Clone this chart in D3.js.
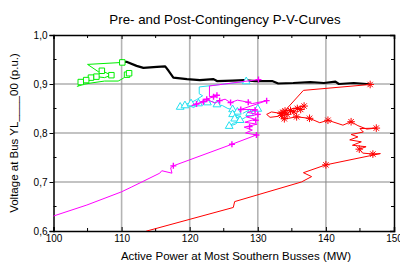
<!DOCTYPE html>
<html>
<head>
<meta charset="utf-8">
<script src="https://cdn.jsdelivr.net/npm/d3@7"></script>
<style>
  body { margin: 0; background: #fff; }
  text { font-family: "Liberation Sans", Arial, sans-serif; }
</style>
</head>
<body>
<div id="chart"></div>
<script>
// values: [active power MW, voltage p.u.]
const blackLine = [[110.0,0.950],[110.0,0.945],[110.8,0.945],[112.2,0.937],[113.2,0.933],[115.2,0.935],[116.4,0.936],[116.9,0.927],[117.6,0.913],[119.6,0.910],[121.5,0.908],[123.5,0.910],[124.0,0.906],[126.3,0.907],[128.0,0.908],[129.6,0.906],[132.1,0.906],[133.0,0.901],[135.2,0.902],[137.7,0.904],[139.7,0.902],[141.4,0.905],[141.9,0.900],[144.1,0.902],[146.0,0.900],[146.5,0.899]];

const greenLine = [[110.1,0.944],[105.0,0.940],[106.6,0.925],[107.1,0.927],[108.5,0.918],[107.5,0.913],[106.3,0.915],[106.0,0.911],[105.5,0.913],[105.0,0.907],[104.5,0.905],[104.0,0.902],[103.5,0.895],[104.3,0.899],[105.5,0.902],[107.5,0.906],[109.5,0.906],[110.3,0.912],[110.8,0.919],[111.2,0.923],[110.6,0.920]];
const greenMarks = [[110.1,0.944],[107.1,0.927],[108.5,0.918],[106.3,0.915],[105.5,0.913],[104.8,0.908],[104.0,0.904],[110.8,0.919],[111.1,0.922]];

const cyanLine = [[128.3,0.905],[121.4,0.894],[121.4,0.880],[121.9,0.876],[121.0,0.868],[120.2,0.862],[119.3,0.858],[118.6,0.853],[119.0,0.850],[119.8,0.856],[120.6,0.852],[121.3,0.860],[122.0,0.866],[122.6,0.860],[123.3,0.865],[124.0,0.858],[124.8,0.856],[125.6,0.850],[126.3,0.848],[127.0,0.843],[126.3,0.838],[127.4,0.834],[126.6,0.829],[127.6,0.824],[126.4,0.820],[125.8,0.814],[126.7,0.818],[127.4,0.826],[128.2,0.832],[128.8,0.840],[129.4,0.845],[130.2,0.850],[128.6,0.846],[127.8,0.840]];
const cyanMarks = [[128.3,0.905],[118.6,0.853],[119.3,0.856],[120.2,0.860],[121.3,0.860],[122.6,0.862],[124.0,0.858],[126.3,0.848],[127.0,0.843],[126.3,0.838],[126.6,0.829],[125.8,0.814],[127.4,0.826],[128.8,0.840],[130.0,0.849]];

const magentaLine = [[99.0,0.626],[104.9,0.653],[110.0,0.680],[111.5,0.690],[115.6,0.718],[115.9,0.723],[117.4,0.718],[117.2,0.729],[117.6,0.733],[126.2,0.777],[129.8,0.796],[128.2,0.800],[129.2,0.806],[128.0,0.812],[129.9,0.818],[128.1,0.822],[129.6,0.828],[128.3,0.833],[130.0,0.838],[128.5,0.842],[129.8,0.848],[127.5,0.848],[131.3,0.866],[129.2,0.860],[127.8,0.865],[127.0,0.867],[126.0,0.862],[125.2,0.869],[124.4,0.866],[123.7,0.861],[122.8,0.867],[122.0,0.863],[121.0,0.859],[120.3,0.856],[121.5,0.862],[122.5,0.869],[123.5,0.874],[124.0,0.877],[122.9,0.874],[122.9,0.896],[130.1,0.909]];
const magentaMarks = [[117.6,0.733],[126.2,0.777],[129.8,0.796],[128.8,0.813],[129.7,0.826],[130.0,0.838],[129.6,0.847],[127.5,0.848],[131.3,0.866],[128.6,0.863],[126.0,0.862],[124.4,0.866],[121.0,0.859],[122.0,0.864],[122.5,0.869],[123.5,0.874],[124.0,0.877],[130.1,0.909]];

const redLine = [[112.0,0.590],[113.7,0.600],[126.4,0.648],[126.6,0.660],[136.4,0.700],[137.9,0.711],[136.7,0.719],[140.0,0.735],[148.0,0.758],[146.9,0.757],[145.4,0.759],[144.9,0.767],[145.9,0.772],[143.9,0.775],[145.2,0.782],[143.5,0.786],[144.7,0.792],[143.7,0.797],[145.5,0.802],[145.0,0.809],[147.4,0.810],[146.0,0.808],[144.7,0.815],[143.7,0.823],[142.5,0.816],[140.3,0.826],[139.1,0.821],[137.6,0.830],[135.7,0.833],[134.5,0.830],[133.7,0.828],[133.4,0.840],[132.0,0.843],[131.3,0.838],[131.8,0.832],[133.0,0.834],[133.7,0.842],[134.3,0.838],[134.8,0.846],[135.3,0.843],[135.8,0.850],[136.3,0.848],[136.8,0.855],[135.2,0.850],[134.0,0.845],[133.5,0.838],[136.7,0.887],[146.5,0.899]];
const redMarks = [[146.5,0.899],[133.4,0.840],[133.7,0.842],[134.3,0.838],[134.8,0.846],[135.3,0.843],[135.8,0.850],[136.3,0.848],[136.8,0.855],[134.0,0.845],[133.5,0.836],[135.7,0.833],[133.9,0.829],[137.6,0.830],[140.3,0.826],[143.7,0.823],[147.4,0.810],[144.9,0.767],[146.9,0.757],[140.0,0.735]];

const xTicks = [100, 110, 120, 130, 140, 150];
const yTicks = [0.6, 0.7, 0.8, 0.9, 1.0];

const width = 400, height = 264;
const margin = {left: 53.5, right: 6, top: 35, bottom: 33};

const svg = d3.select("#chart").append("svg")
  .attr("width", width)
  .attr("height", height);

const x = d3.scaleLinear().domain([100, 150]).range([margin.left, width - margin.right]);
const y = d3.scaleLinear().domain([0.6, 1.0]).range([height - margin.bottom, margin.top]);

svg.append("defs").append("clipPath").attr("id", "plotclip")
  .append("rect")
  .attr("x", x(100)).attr("y", y(1.0))
  .attr("width", x(150) - x(100)).attr("height", y(0.6) - y(1.0));

// grid
svg.append("g").selectAll("line")
  .data(xTicks.slice(1, -1))
  .join("line")
  .attr("x1", d => x(d)).attr("x2", d => x(d))
  .attr("y1", y(1.0)).attr("y2", y(0.6))
  .attr("stroke", "#b4b4b4").attr("stroke-width", 1.6);

svg.append("g").selectAll("line")
  .data(yTicks.slice(1, -1))
  .join("line")
  .attr("x1", x(100)).attr("x2", x(150))
  .attr("y1", d => y(d)).attr("y2", d => y(d))
  .attr("stroke", "#888").attr("stroke-width", 1.2);

// axes
const fmtY = d => d3.format(".1f")(d).replace(".", ",");
const minorX = d3.range(105, 150, 10);
const minorY = [0.65, 0.75, 0.85, 0.95];

const axBottom = svg.append("g").attr("transform", `translate(0,${y(0.6)})`)
  .call(d3.axisBottom(x).tickValues(xTicks).tickSize(-4).tickPadding(4).tickFormat(d3.format("d")));
const axTop = svg.append("g").attr("transform", `translate(0,${y(1.0)})`)
  .call(d3.axisTop(x).tickValues(xTicks).tickSize(-4).tickFormat(""));
const axLeft = svg.append("g").attr("transform", `translate(${x(100)},0)`)
  .call(d3.axisLeft(y).tickValues(yTicks).tickSize(4).tickPadding(2).tickFormat(fmtY));
const axRight = svg.append("g").attr("transform", `translate(${x(150)},0)`)
  .call(d3.axisRight(y).tickValues(yTicks).tickSize(-4).tickFormat(""));

[axBottom, axTop, axLeft, axRight].forEach(g => {
  g.select(".domain").attr("stroke", "#000").attr("stroke-width", 1.5);
  g.selectAll(".tick line").attr("stroke", "#000");
  g.selectAll("text").attr("font-size", 10).attr("fill", "#000")
    .attr("font-family", "Liberation Sans, Arial, sans-serif");
});

// minor ticks
svg.append("g").selectAll("line").data(minorX).join("line")
  .attr("x1", d => x(d)).attr("x2", d => x(d))
  .attr("y1", y(0.6)).attr("y2", y(0.6) - 3).attr("stroke", "#000");
svg.append("g").selectAll("line").data(minorX).join("line")
  .attr("x1", d => x(d)).attr("x2", d => x(d))
  .attr("y1", y(1.0)).attr("y2", y(1.0) + 3).attr("stroke", "#000");
svg.append("g").selectAll("line").data(minorY).join("line")
  .attr("x1", x(100)).attr("x2", x(100) + 3)
  .attr("y1", d => y(d)).attr("y2", d => y(d)).attr("stroke", "#000");
svg.append("g").selectAll("line").data(minorY).join("line")
  .attr("x1", x(150)).attr("x2", x(150) - 3)
  .attr("y1", d => y(d)).attr("y2", d => y(d)).attr("stroke", "#000");

// curves
const line = d3.line().x(d => x(d[0])).y(d => y(d[1]));
const plot = svg.append("g").attr("clip-path", "url(#plotclip)");

function curve(data, color, w) {
  plot.append("path")
    .datum(data)
    .attr("d", line)
    .attr("fill", "none")
    .attr("stroke", color)
    .attr("stroke-width", w)
    .attr("stroke-linejoin", "round");
}

function symbols(data, color, type) {
  const g = plot.append("g");
  if (type === "square" || type === "triangle") {
    const sym = d3.symbol()
      .type(type === "square" ? d3.symbolSquare : d3.symbolTriangle)
      .size(type === "square" ? 30 : 26);
    g.selectAll("path").data(data).join("path")
      .attr("transform", d => `translate(${x(d[0])},${y(d[1])})`)
      .attr("d", sym)
      .attr("fill", "#fff")
      .attr("stroke", color)
      .attr("stroke-width", 1);
  } else {
    const r = type === "plus" ? 3 : 3.8;
    const spokes = type === "plus" ? [0, 90] : [0, 45, 90, 135];
    g.selectAll("path").data(data).join("path")
      .attr("transform", d => `translate(${x(d[0])},${y(d[1])})`)
      .attr("d", spokes.map(a => {
        const dx = r * Math.cos(a * Math.PI / 180), dy = r * Math.sin(a * Math.PI / 180);
        return `M${-dx},${-dy}L${dx},${dy}`;
      }).join(""))
      .attr("fill", "none")
      .attr("stroke", color)
      .attr("stroke-width", type === "plus" ? 1.4 : 1);
  }
}

curve(blackLine, "#000", 2.2);
curve(redLine, "#ff0000", 1);
symbols(redMarks, "#ff0000", "star");
curve(cyanLine, "#22e0f0", 1);
symbols(cyanMarks, "#22e0f0", "triangle");
curve(magentaLine, "#ff00ff", 1);
symbols(magentaMarks, "#ff00ff", "plus");
curve(greenLine, "#00ee00", 1);
symbols(greenMarks, "#00ee00", "square");

// titles
svg.append("text")
  .attr("x", 225).attr("y", 24)
  .attr("text-anchor", "middle")
  .attr("font-size", 13.3)
  .text("Pre- and Post-Contingency P-V-Curves");

svg.append("text")
  .attr("x", 236).attr("y", 260)
  .attr("text-anchor", "middle")
  .attr("font-size", 11.5)
  .text("Active Power at Most Southern Busses (MW)");

svg.append("text")
  .attr("transform", `translate(18,${(y(0.6) + y(1.0)) / 2}) rotate(-90)`)
  .attr("text-anchor", "middle")
  .attr("font-size", 11.5)
  .text("Voltage at Bus YL____00 (p.u.)");
</script>
</body>
</html>
